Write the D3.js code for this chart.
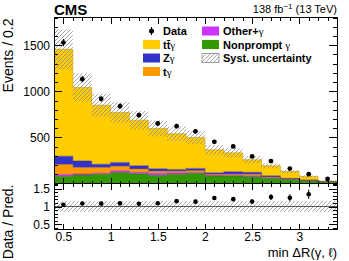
<!DOCTYPE html>
<html><head><meta charset="utf-8">
<script src="https://cdn.jsdelivr.net/npm/d3@7"></script>
<style>
body{margin:0;background:#fff}
svg{display:block}
text{font-family:"Liberation Sans",Arial,Helvetica,sans-serif}
</style>
</head><body>
<svg id="c" width="349" height="261"></svg>
<script>
// ---- data ----
const binEdges  = [0.4,0.6,0.8,1.0,1.2,1.4,1.6,1.8,2.0,2.2,2.4,2.6,2.8,3.0,3.2,3.4];
const nonprompt = [78, 92, 100, 120, 106, 89, 100, 110, 81, 80, 74, 56, 45, 30, 18];
const otherG    = [20, 12, 11, 18, 15, 22, 15, 10, 8, 8, 10, 6, 3, 2, 1];
const tG        = [108, 70, 62, 48, 36, 22, 18, 18, 11, 12, 16, 8, 3, 3, 1];
const zG        = [90, 70, 36, 43, 36, 27, 20, 26, 17, 28, 21, 14, 5, 3, 2];
const ttG       = [1159, 797, 640, 541, 494, 437, 387, 334, 248, 205, 137, 108, 74, 37, 5];
const dataVals  = [1528, 1131, 918, 839, 741, 651, 622, 566, 452, 402, 294, 243, 162, 101, 49];
const dataErr   = [40, 34, 30, 29, 27, 26, 25, 24, 21, 20, 17, 16, 13, 10, 7];
const systRel   = [0.148, 0.145, 0.145, 0.145, 0.145, 0.145, 0.145, 0.145, 0.145, 0.145, 0.145, 0.145, 0.145, 0.15, 0.16];
const yTicks    = [500, 1000, 1500];
const ratioTicks= [0.5, 1, 1.5];
const xTicks    = [0.5, 1, 1.5, 2, 2.5, 3];

const series = [
  {key:"np",  name:"Nonprompt", vals:nonprompt, color:"#339900"},
  {key:"oth", name:"Other",     vals:otherG,    color:"#cc33ff"},
  {key:"tg",  name:"tγ",        vals:tG,        color:"#ff9900"},
  {key:"zg",  name:"Zγ",        vals:zG,        color:"#3333cc"},
  {key:"ttg", name:"ttγ",       vals:ttG,       color:"#ffcc00"}
];

// ---- layout ----
const L = 54, R = 337, T = 17.5, MB = 183.5, RB = 229.5;
const svg = d3.select("#c");

const x = d3.scaleLinear().domain([binEdges[0], binEdges[binEdges.length-1]]).range([L, R]);
const y = d3.scaleLinear().domain([0, 1800]).range([MB, T]);
const r = d3.scaleLinear().domain([0.35, 1.65]).range([RB, MB]);

// hatch pattern
const defs = svg.append("defs");
const pat = defs.append("pattern").attr("id","hatch").attr("patternUnits","userSpaceOnUse")
  .attr("width",4).attr("height",4);
pat.append("path").attr("d","M-1,1 l2,-2 M0,4 l4,-4 M3,5 l2,-2")
  .attr("stroke","#8a8a8a").attr("stroke-width",0.75);
defs.append("clipPath").attr("id","clipMain").append("rect")
  .attr("x",L).attr("y",T).attr("width",R-L).attr("height",MB-T);
defs.append("clipPath").attr("id","clipRatio").append("rect")
  .attr("x",L).attr("y",MB).attr("width",R-L).attr("height",RB-MB);

// stack
const nb = binEdges.length - 1;
const rows = d3.range(nb).map(i => {
  const o = {i};
  series.forEach(s => o[s.key] = s.vals[i]);
  return o;
});
const stacked = d3.stack().keys(series.map(s=>s.key))(rows);
const totals = rows.map((d,i) => series.reduce((a,s)=>a+s.vals[i],0));

function stepPts(fLow, fHigh){
  const pts = d3.range(nb).map(i => ({x:binEdges[i], lo:fLow(i), hi:fHigh(i)}));
  pts.push({x:binEdges[nb], lo:fLow(nb-1), hi:fHigh(nb-1)});
  return pts;
}
const areaMain = d3.area().curve(d3.curveStepAfter)
  .x(d=>x(d.x)).y0(d=>y(d.lo)).y1(d=>y(d.hi));
const lineMain = d3.line().curve(d3.curveStepAfter).x(d=>x(d.x)).y(d=>y(d.hi));

const gMain = svg.append("g").attr("clip-path","url(#clipMain)");
stacked.forEach((layer, li) => {
  const pts = stepPts(i=>layer[i][0], i=>layer[i][1]);
  gMain.append("path").attr("d", areaMain(pts)).attr("fill", series[li].color);
});
stacked.forEach((layer, li) => {
  const pts = stepPts(i=>layer[i][0], i=>layer[i][1]);
  gMain.append("path").attr("d", lineMain(pts)).attr("fill","none")
    .attr("stroke", d3.color(series[li].color).darker(0.9)).attr("stroke-width",0.6).attr("stroke-opacity",0.8);
});
// syst band
gMain.append("path")
  .attr("d", areaMain(stepPts(i=>totals[i]*(1-systRel[i]), i=>totals[i]*(1+systRel[i]))))
  .attr("fill","url(#hatch)");

// data points main
const gData = gMain.append("g");
d3.range(nb).forEach(i => {
  const cx = x((binEdges[i]+binEdges[i+1])/2);
  gData.append("line").attr("x1",cx).attr("x2",cx)
    .attr("y1",y(dataVals[i]-dataErr[i])).attr("y2",y(dataVals[i]+dataErr[i]))
    .attr("stroke","#000").attr("stroke-width",1);
  gData.append("circle").attr("cx",cx).attr("cy",y(dataVals[i])).attr("r",2.4).attr("fill","#000");
});

// ratio panel
const areaR = d3.area().curve(d3.curveStepAfter).x(d=>x(d.x)).y0(d=>r(d.lo)).y1(d=>r(d.hi));
const gR = svg.append("g").attr("clip-path","url(#clipRatio)");
gR.append("path").attr("d", areaR(stepPts(i=>1-systRel[i], i=>1+systRel[i]))).attr("fill","url(#hatch)");
gR.append("line").attr("x1",L).attr("x2",R).attr("y1",r(1)).attr("y2",r(1))
  .attr("stroke","#333").attr("stroke-width",0.8);
d3.range(nb).forEach(i => {
  const ratio = dataVals[i]/totals[i];
  if (ratio > r.domain()[1] || ratio < r.domain()[0]) return;
  const e = dataErr[i]/totals[i];
  const cx = x((binEdges[i]+binEdges[i+1])/2);
  gR.append("line").attr("x1",cx).attr("x2",cx).attr("y1",r(ratio-e)).attr("y2",r(ratio+e))
    .attr("stroke","#000").attr("stroke-width",1);
  gR.append("circle").attr("cx",cx).attr("cy",r(ratio)).attr("r",2.3).attr("fill","#000");
});

// axes
function styleAxis(g, labels){
  g.select(".domain").remove();
  g.selectAll(".tick line").attr("stroke","#000").attr("stroke-width",1).attr("shape-rendering","crispEdges");
  g.selectAll("text").attr("font-family",'"Liberation Sans",Arial,sans-serif').attr("font-size",12).attr("fill","#000");
  if(!labels) g.selectAll("text").remove();
  g.attr("font-family",null).attr("font-size",null);
}
const xMinor = x.ticks(30);
const yMinor = y.ticks(18);
const rMinor = r.ticks(13);

// main y
styleAxis(svg.append("g").attr("transform",`translate(${L},0)`).call(d3.axisLeft(y).tickValues(yTicks).tickSize(-8).tickPadding(4).tickFormat(d3.format("d"))), true);
styleAxis(svg.append("g").attr("transform",`translate(${L},0)`).call(d3.axisLeft(y).tickValues(yMinor).tickSize(-4).tickFormat("")), false);
styleAxis(svg.append("g").attr("transform",`translate(${R},0)`).call(d3.axisRight(y).tickValues(yTicks).tickSize(-8).tickFormat("")), false);
styleAxis(svg.append("g").attr("transform",`translate(${R},0)`).call(d3.axisRight(y).tickValues(yMinor).tickSize(-4).tickFormat("")), false);
// main x top/bottom
styleAxis(svg.append("g").attr("transform",`translate(0,${T})`).call(d3.axisTop(x).tickValues(xTicks).tickSize(-6).tickFormat("")), false);
styleAxis(svg.append("g").attr("transform",`translate(0,${T})`).call(d3.axisTop(x).tickValues(xMinor).tickSize(-3).tickFormat("")), false);
styleAxis(svg.append("g").attr("transform",`translate(0,${MB})`).call(d3.axisBottom(x).tickValues(xTicks).tickSize(-6).tickFormat("")), false);
styleAxis(svg.append("g").attr("transform",`translate(0,${MB})`).call(d3.axisBottom(x).tickValues(xMinor).tickSize(-3).tickFormat("")), false);
// ratio y
styleAxis(svg.append("g").attr("transform",`translate(${L},0)`).call(d3.axisLeft(r).tickValues(ratioTicks).tickSize(-8).tickPadding(4).tickFormat(d3.format("~g"))), true);
styleAxis(svg.append("g").attr("transform",`translate(${L},0)`).call(d3.axisLeft(r).tickValues(rMinor).tickSize(-4).tickFormat("")), false);
styleAxis(svg.append("g").attr("transform",`translate(${R},0)`).call(d3.axisRight(r).tickValues(ratioTicks).tickSize(-8).tickFormat("")), false);
styleAxis(svg.append("g").attr("transform",`translate(${R},0)`).call(d3.axisRight(r).tickValues(rMinor).tickSize(-4).tickFormat("")), false);
// ratio x
styleAxis(svg.append("g").attr("transform",`translate(0,${MB})`).call(d3.axisTop(x).tickValues(xTicks).tickSize(-6).tickFormat("")), false);
styleAxis(svg.append("g").attr("transform",`translate(0,${MB})`).call(d3.axisTop(x).tickValues(xMinor).tickSize(-3).tickFormat("")), false);
styleAxis(svg.append("g").attr("transform",`translate(0,${RB})`).call(d3.axisBottom(x).tickValues(xTicks).tickSize(-6).tickPadding(3).tickFormat(d3.format("~g"))), true);
styleAxis(svg.append("g").attr("transform",`translate(0,${RB})`).call(d3.axisBottom(x).tickValues(xMinor).tickSize(-3).tickFormat("")), false);

// frames
svg.append("rect").attr("x",L).attr("y",T).attr("width",R-L).attr("height",MB-T)
  .attr("fill","none").attr("stroke","#000").attr("stroke-width",1).attr("shape-rendering","crispEdges");
svg.append("rect").attr("x",L).attr("y",MB).attr("width",R-L).attr("height",RB-MB)
  .attr("fill","none").attr("stroke","#000").attr("stroke-width",1).attr("shape-rendering","crispEdges");

// titles
svg.append("text").attr("x",L).attr("y",15).attr("font-size",15).attr("font-weight","bold").text("CMS");
const lum = svg.append("text").attr("x",R).attr("y",13).attr("text-anchor","end").attr("font-size",11);
lum.append("tspan").text("138 fb");
lum.append("tspan").attr("dy",-4).attr("font-size",8).text("−1");
lum.append("tspan").attr("dy",4).text(" (13 TeV)");

svg.append("text").attr("transform",`translate(13,${T+1}) rotate(-90)`).attr("text-anchor","end")
  .attr("font-size",14).text("Events / 0.2");
svg.append("text").attr("transform",`translate(13,${MB+1}) rotate(-90)`).attr("text-anchor","end")
  .attr("font-size",14).text("Data / Pred.");
svg.append("text").attr("x",R).attr("y",257).attr("text-anchor","end").attr("font-size",13).text("min ΔR(γ, ℓ)");

// legend
const legRow = [31, 44.5, 58, 71.5];
const sw = 17, sh = 9;
function legText(xp, yp, parts){
  const t = svg.append("text").attr("x",xp).attr("y",yp+4).attr("font-size",11).attr("font-weight","bold");
  parts.forEach(p => {
    const s = t.append("tspan").text(p.t);
    if (p.g) s.attr("font-family",'"Liberation Serif","Times New Roman",serif').attr("font-weight","normal");
  });
}
const lx1 = 143, lx2 = 202;
// Data
svg.append("line").attr("x1",lx1+sw/2).attr("x2",lx1+sw/2).attr("y1",legRow[0]-4).attr("y2",legRow[0]+4).attr("stroke","#000");
svg.append("circle").attr("cx",lx1+sw/2).attr("cy",legRow[0]).attr("r",2.5).attr("fill","#000");
legText(lx1+20, legRow[0], [{t:"Data"}]);
const leftEntries = [
  {c:series[4].color, parts:[{t:"tt\u0304"},{t:"γ",g:true}]},
  {c:series[3].color, parts:[{t:"Z"},{t:"γ",g:true}]},
  {c:series[2].color, parts:[{t:"t"},{t:"γ",g:true}]}
];
leftEntries.forEach((e,k) => {
  svg.append("rect").attr("x",lx1).attr("y",legRow[k+1]-sh/2).attr("width",sw).attr("height",sh).attr("fill",e.c);
  legText(lx1+20, legRow[k+1], e.parts);
});
const rightEntries = [
  {c:series[1].color, parts:[{t:"Other+"},{t:"γ",g:true}]},
  {c:series[0].color, parts:[{t:"Nonprompt "},{t:"γ",g:true}]}
];
rightEntries.forEach((e,k) => {
  svg.append("rect").attr("x",lx2).attr("y",legRow[k]-sh/2).attr("width",sw).attr("height",sh).attr("fill",e.c);
  legText(lx2+21, legRow[k], e.parts);
});
svg.append("rect").attr("x",lx2).attr("y",legRow[2]-sh/2).attr("width",sw).attr("height",sh)
  .attr("fill","url(#hatch)").attr("stroke","#888").attr("stroke-width",0.8);
legText(lx2+21, legRow[2], [{t:"Syst. uncertainty"}]);
</script>
</body></html>
